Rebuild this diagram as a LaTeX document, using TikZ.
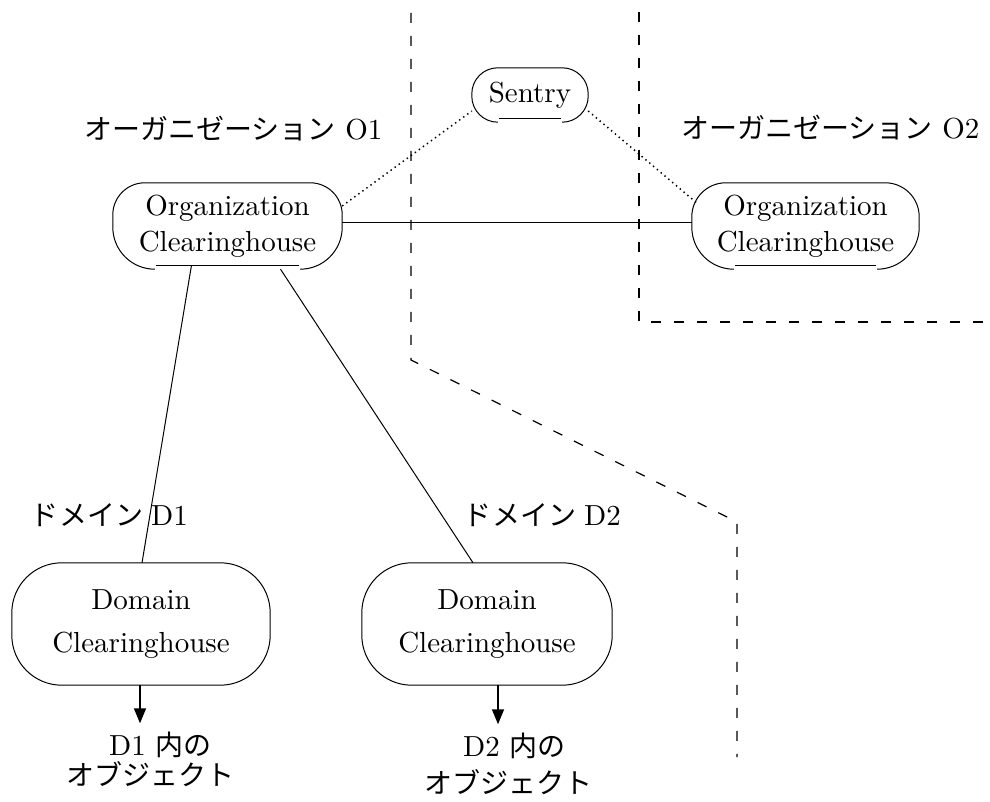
\documentclass[tikz,border=0pt]{standalone}
\usepackage{fontspec}
\setmainfont{lmroman10-regular.otf}
\newfontfamily\cjk{Noto Sans CJK JP}
\usetikzlibrary{arrows.meta}
\newcommand\romf{\fontsize{29}{36}\selectfont}
\newcommand\domf{\fontsize{29}{43}\selectfont}
\newcommand\jpf{\cjk\fontsize{28}{34}\selectfont}
\newcommand\gapoval[3]{%
  \draw[boxline,rounded corners=#2] (#1.east) -- (#1.north east) -- (#1.north west) -- (#1.west);
  \draw[boxline,rounded corners=#3] (#1.east) -- (#1.south east) -- ([xshift=-#3]#1.south east);
  \draw[boxline,rounded corners=#3] (#1.west) -- (#1.south west) -- ([xshift=#3]#1.south west);
  \draw[boxline] ([xshift=#3+1pt,yshift=4pt]#1.south west) -- ([xshift=-#3-1pt,yshift=4pt]#1.south east);
}
\tikzset{
  boxline/.style={line width=1pt},
  conn/.style={line width=1pt},
  dotline/.style={line width=1.5pt, dash pattern=on 1.4pt off 3.6pt},
  dashline/.style={line width=1.2pt, dash pattern=on 10pt off 13pt},
  arrline/.style={line width=1.6pt, -{Triangle[width=12pt,length=15pt]}},
  box/.style={rectangle, inner sep=0pt, align=center, font=\romf},
  dbox/.style={rectangle, inner sep=0pt, align=center, font=\domf},
  lab/.style={inner sep=0pt, font=\romf, anchor=base west},
}
\begin{document}
\begin{tikzpicture}[x=1pt,y=1pt]
\useasboundingbox (0,0) rectangle (990,801);
% region boundaries
\draw[dashline] (411,788) -- (411,441) -- (737,279) -- (737,44);
\draw[dashline] (639,789) -- (639,479) -- (990,479);
% nodes
\node[box, minimum width=116pt, minimum height=54pt] (sentry) at (530,706) {Sentry};
\node[box, minimum width=229pt, minimum height=86pt] (org1) at (227.5,575) {Organization\\Clearinghouse};
\node[box, minimum width=227pt, minimum height=86pt] (org2) at (805.5,575) {Organization\\Clearinghouse};
\node[dbox, minimum width=258pt, minimum height=122pt] (dom1) at (141,177) {Domain\\Clearinghouse};
\node[dbox, minimum width=250pt, minimum height=122pt] (dom2) at (487,177) {Domain\\Clearinghouse};
\gapoval{sentry}{26pt}{26pt}
\gapoval{org1}{32pt}{42pt}
\gapoval{org2}{34pt}{42pt}
\draw[boxline, rounded corners=50pt] (dom1.north west) rectangle (dom1.south east);
\draw[boxline, rounded corners=50pt] (dom2.north west) rectangle (dom2.south east);
% labels
\node[lab] (lo1) at (84,661) {{\jpf オーガニゼーション} O1};
\node[lab] (lo2) at (681,662) {{\jpf オーガニゼーション} O2};
\node[lab] (ld1) at (30,276) {{\jpf ド\hspace{1pt}メイン}\hspace{8pt}D1};
\node[lab] (ld2) at (463,276) {{\jpf ド\hspace{1pt}メイン}\hspace{8pt}D2};
\node[lab, inner ysep=8pt] (obj1a) at (109,46) {D1 {\jpf 内の}};
\node[lab] (obj1b) at (66,16) {\jpf オブジェクト};
\node[lab, inner ysep=8pt] (obj2a) at (463,45) {D2 {\jpf 内の}};
\node[lab] (obj2b) at (424,8) {\jpf オブジェクト};
% connectors
\draw[conn] ([yshift=3pt]org1.east) -- ([yshift=3pt]org2.west);
\draw[dotline] ([yshift=20pt]org1.east) -- ([yshift=-16pt]sentry.west);
\draw[dotline] ([yshift=-16pt]sentry.east) -- ([xshift=5pt,yshift=23pt]org2.west);
\draw[conn] ([xshift=-36pt,yshift=4pt]org1.south) -- ([xshift=1pt]dom1.north);
\draw[conn] ([xshift=53pt]org1.south) -- ([xshift=-14pt]dom2.north);
\coordinate (d1out) at ([xshift=-1pt]dom1.south);
\coordinate (d2out) at ([xshift=11pt]dom2.south);
\draw[arrline] (d1out) -- (d1out |- obj1a.north);
\draw[arrline] (d2out) -- (d2out |- obj2a.north);
\end{tikzpicture}
\end{document}
